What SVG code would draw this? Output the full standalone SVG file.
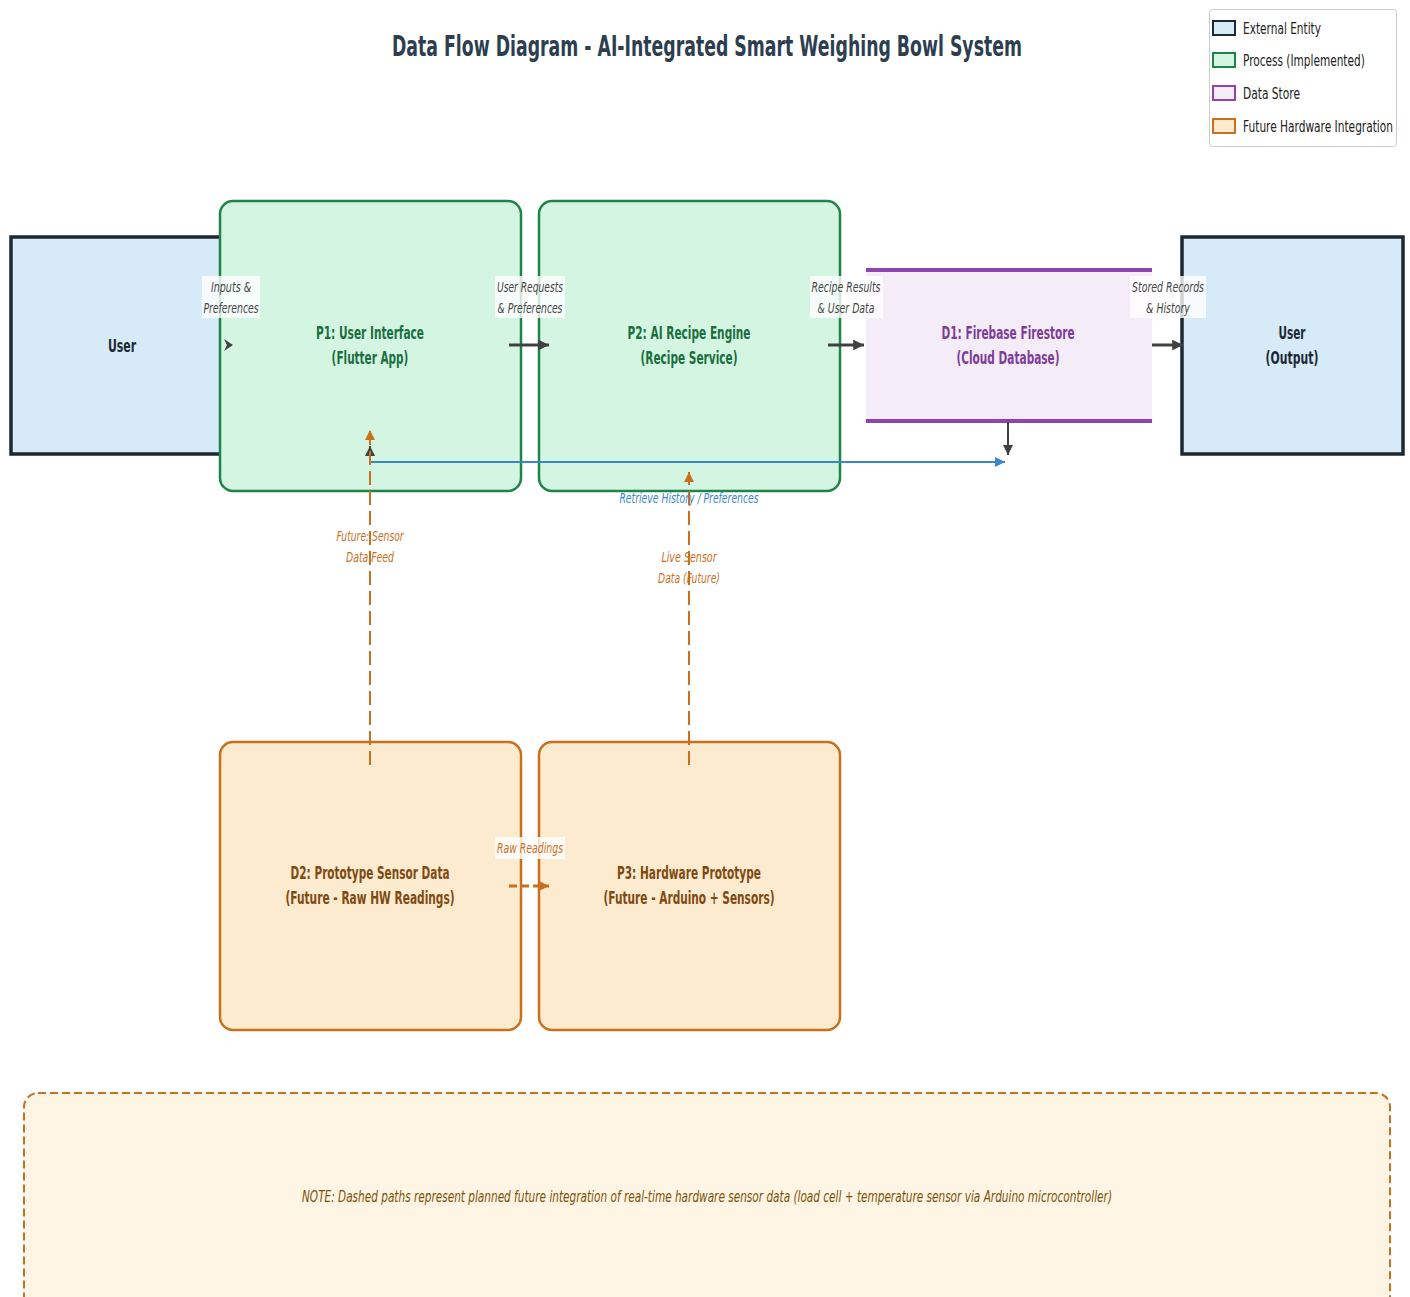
<svg xmlns="http://www.w3.org/2000/svg" width="1410" height="1297" viewBox="0 0 1410 1297">
  <style>
    text { font-family: "DejaVu Sans", "Liberation Sans", sans-serif; }
    .title { font-size: 29px; font-weight: bold; fill: #2c3e50; }
    .node { font-size: 18px; font-weight: bold; text-anchor: middle; }
    .ext { fill: #d6eaf8; stroke: #1c2833; stroke-width: 3.5; }
    .ext-t { fill: #1c2833; }
    .proc { fill: #d5f5e3; stroke: #1e8449; stroke-width: 2.5; }
    .proc-t { fill: #196f3d; }
    .store { fill: #f4ecf7; }
    .store-line { stroke: #8e44ad; stroke-width: 4; }
    .store-t { fill: #7d3c98; }
    .fut { fill: #fdebd0; stroke: #ca6f1e; stroke-width: 2.5; }
    .fut-t { fill: #7e4a12; }
    .lbl, .lbl-blue, .lbl-or { font-size: 14.5px; font-style: italic; text-anchor: middle; }
    .lbl { fill: #444444; }
    .lbl-blue { fill: #3a87c8; }
    .lbl-or { fill: #ca6f1e; }
    .lbl-bg { fill: #ffffff; fill-opacity: 0.8; }
    .flow { stroke: #404040; stroke-width: 3; fill: none; }
    .flow-thin { stroke: #404040; stroke-width: 2; fill: none; }
    .flow-blue { stroke: #3a87c8; stroke-width: 2; fill: none; }
    .flow-or { stroke: #ca6f1e; stroke-width: 2; fill: none; stroke-dasharray: 14 6; }
    .flow-or-h { stroke: #ca6f1e; stroke-width: 3; fill: none; stroke-dasharray: 8 4; }
    .leg { font-size: 15.5px; fill: #222222; }
  </style>
  <defs>
    <marker id="head-dark" viewBox="0 0 10 10" refX="10" refY="5" markerWidth="3.6" markerHeight="3.6" orient="auto" markerUnits="strokeWidth">
      <path d="M0,0 L10,5 L0,10 Z" fill="#404040"/>
    </marker>
    <marker id="head-dark-thin" viewBox="0 0 10 10" refX="10" refY="5" markerWidth="5" markerHeight="5" orient="auto" markerUnits="strokeWidth">
      <path d="M0,0 L10,5 L0,10 Z" fill="#404040"/>
    </marker>
    <marker id="head-blue" viewBox="0 0 10 10" refX="10" refY="5" markerWidth="5" markerHeight="5" orient="auto" markerUnits="strokeWidth">
      <path d="M0,0 L10,5 L0,10 Z" fill="#3a87c8"/>
    </marker>
    <marker id="head-or" viewBox="0 0 10 10" refX="10" refY="5" markerWidth="5" markerHeight="5" orient="auto" markerUnits="strokeWidth">
      <path d="M0,0 L10,5 L0,10 Z" fill="#ca6f1e"/>
    </marker>
    <marker id="head-or-h" viewBox="0 0 10 10" refX="10" refY="5" markerWidth="3.4" markerHeight="3.4" orient="auto" markerUnits="strokeWidth">
      <path d="M0,0 L10,5 L0,10 Z" fill="#ca6f1e"/>
    </marker>
  </defs>

  <rect width="1410" height="1297" fill="#ffffff"/>

  <!-- title (narrow lettering) -->
  <text class="title" transform="translate(707 56) scale(0.6 1)" text-anchor="middle" textLength="1050" lengthAdjust="spacingAndGlyphs">Data Flow Diagram - AI-Integrated Smart Weighing Bowl System</text>

  <!-- legend -->
  <g id="legend">
    <rect x="1209.5" y="9.5" width="187" height="137" rx="3" fill="#ffffff" stroke="#cccccc" stroke-width="1"/>
    <rect x="1213" y="21" width="22" height="14" fill="#d6eaf8" stroke="#1c2833" stroke-width="2"/>
    <text class="leg" transform="translate(1243 34) scale(0.6 1)" textLength="130" lengthAdjust="spacingAndGlyphs">External Entity</text>
    <rect x="1213" y="53" width="22" height="14" fill="#d5f5e3" stroke="#1e8449" stroke-width="2"/>
    <text class="leg" transform="translate(1243 66) scale(0.6 1)" textLength="203" lengthAdjust="spacingAndGlyphs">Process (Implemented)</text>
    <rect x="1213" y="86" width="22" height="14" fill="#f4ecf7" stroke="#8e44ad" stroke-width="2"/>
    <text class="leg" transform="translate(1243 99) scale(0.6 1)" textLength="95" lengthAdjust="spacingAndGlyphs">Data Store</text>
    <rect x="1213" y="119" width="22" height="14" fill="#fdebd0" stroke="#ca6f1e" stroke-width="2"/>
    <text class="leg" transform="translate(1243 132) scale(0.6 1)" textLength="250" lengthAdjust="spacingAndGlyphs">Future Hardware Integration</text>
  </g>

  <!-- external entity: user (input) -->
  <g id="user-in">
    <rect class="ext" x="11" y="237" width="225" height="217"/>
    <text class="node ext-t" transform="translate(122 352) scale(0.6 1)" textLength="47" lengthAdjust="spacingAndGlyphs">User</text>
  </g>

  <!-- P1 -->
  <g id="p1">
    <rect class="proc" x="220" y="201" width="301" height="290" rx="13"/>
    <text class="node proc-t" transform="translate(370 339) scale(0.6 1)" textLength="180" lengthAdjust="spacingAndGlyphs">P1: User Interface</text>
    <text class="node proc-t" transform="translate(370 364) scale(0.6 1)" textLength="128" lengthAdjust="spacingAndGlyphs">(Flutter App)</text>
  </g>

  <!-- P2 -->
  <g id="p2">
    <rect class="proc" x="539" y="201" width="301" height="290" rx="13"/>
    <text class="node proc-t" transform="translate(689 339) scale(0.6 1)" textLength="205" lengthAdjust="spacingAndGlyphs">P2: AI Recipe Engine</text>
    <text class="node proc-t" transform="translate(689 364) scale(0.6 1)" textLength="162" lengthAdjust="spacingAndGlyphs">(Recipe Service)</text>
  </g>

  <!-- D1 data store -->
  <g id="d1">
    <rect class="store" x="866" y="270" width="286" height="151"/>
    <line class="store-line" x1="866" y1="270" x2="1152" y2="270"/>
    <line class="store-line" x1="866" y1="421" x2="1152" y2="421"/>
    <text class="node store-t" transform="translate(1008 339) scale(0.6 1)" textLength="222" lengthAdjust="spacingAndGlyphs">D1: Firebase Firestore</text>
    <text class="node store-t" transform="translate(1008 364) scale(0.6 1)" textLength="172" lengthAdjust="spacingAndGlyphs">(Cloud Database)</text>
  </g>

  <!-- external entity: user (output) -->
  <g id="user-out">
    <rect class="ext" x="1182" y="237" width="221" height="217"/>
    <text class="node ext-t" transform="translate(1292 339) scale(0.6 1)" textLength="45" lengthAdjust="spacingAndGlyphs">User</text>
    <text class="node ext-t" transform="translate(1292 364) scale(0.6 1)" textLength="88" lengthAdjust="spacingAndGlyphs">(Output)</text>
  </g>

  <!-- D2 prototype sensor data -->
  <g id="d2">
    <rect class="fut" x="220" y="742" width="301" height="288" rx="13"/>
    <text class="node fut-t" transform="translate(370 879) scale(0.6 1)" textLength="265" lengthAdjust="spacingAndGlyphs">D2: Prototype Sensor Data</text>
    <text class="node fut-t" transform="translate(370 904) scale(0.6 1)" textLength="282" lengthAdjust="spacingAndGlyphs">(Future - Raw HW Readings)</text>
  </g>

  <!-- P3 hardware prototype -->
  <g id="p3">
    <rect class="fut" x="539" y="742" width="301" height="288" rx="13"/>
    <text class="node fut-t" transform="translate(689 879) scale(0.6 1)" textLength="240" lengthAdjust="spacingAndGlyphs">P3: Hardware Prototype</text>
    <text class="node fut-t" transform="translate(689 904) scale(0.6 1)" textLength="285" lengthAdjust="spacingAndGlyphs">(Future - Arduino + Sensors)</text>
  </g>

  <!-- note -->
  <g id="note">
    <rect x="24" y="1093" width="1366" height="230" rx="14" fill="#fef5e4" stroke="#ca6f1e" stroke-width="2" stroke-dasharray="8 4"/>
    <text transform="translate(707 1202) scale(0.6 1)" text-anchor="middle" font-size="15.5" font-style="italic" fill="#7e5109" textLength="1350" lengthAdjust="spacingAndGlyphs">NOTE: Dashed paths represent planned future integration of real-time hardware sensor data (load cell + temperature sensor via Arduino microcontroller)</text>
  </g>

  <!-- connectors -->
  <g id="connectors">
    <!-- user -> P1 -->
    <path d="M224,339 L233,345 L224,351 L227,345 Z" fill="#404040"/>
    <!-- P1 -> P2 -->
    <line class="flow" x1="509" y1="345" x2="549" y2="345" marker-end="url(#head-dark)"/>
    <!-- P2 -> D1 -->
    <line class="flow" x1="828" y1="345" x2="864" y2="345" marker-end="url(#head-dark)"/>
    <!-- D1 -> user output -->
    <line class="flow" x1="1152" y1="345" x2="1183" y2="345" marker-end="url(#head-dark)"/>
    <!-- D1 retrieve path -->
    <line class="flow-thin" x1="1008" y1="422" x2="1008" y2="455" marker-end="url(#head-dark-thin)"/>
    <line class="flow-blue" x1="370" y1="462" x2="1005" y2="462" marker-end="url(#head-blue)"/>
    <line class="flow-thin" x1="370" y1="462" x2="370" y2="446" marker-end="url(#head-dark-thin)"/>
    <!-- future sensor feeds -->
    <line class="flow-or" x1="370" y1="765" x2="370" y2="430" marker-end="url(#head-or)"/>
    <line class="flow-or" x1="689" y1="765" x2="689" y2="472" marker-end="url(#head-or)"/>
    <!-- D2 -> P3 -->
    <line class="flow-or-h" x1="509" y1="886" x2="549" y2="886" marker-end="url(#head-or-h)"/>

    <!-- flow labels -->
    <rect class="lbl-bg" x="202" y="276" width="58" height="42"/>
    <text class="lbl" transform="translate(231 292) scale(0.6 1)" textLength="67" lengthAdjust="spacingAndGlyphs">Inputs &amp;</text>
    <text class="lbl" transform="translate(231 313) scale(0.6 1)" textLength="92" lengthAdjust="spacingAndGlyphs">Preferences</text>

    <rect class="lbl-bg" x="495" y="276" width="70" height="42"/>
    <text class="lbl" transform="translate(530 292) scale(0.6 1)" textLength="110" lengthAdjust="spacingAndGlyphs">User Requests</text>
    <text class="lbl" transform="translate(530 313) scale(0.6 1)" textLength="108" lengthAdjust="spacingAndGlyphs">&amp; Preferences</text>

    <rect class="lbl-bg" x="810" y="276" width="73" height="42"/>
    <text class="lbl" transform="translate(846 292) scale(0.6 1)" textLength="115" lengthAdjust="spacingAndGlyphs">Recipe Results</text>
    <text class="lbl" transform="translate(846 313) scale(0.6 1)" textLength="95" lengthAdjust="spacingAndGlyphs">&amp; User Data</text>

    <rect class="lbl-bg" x="1130" y="276" width="76" height="42"/>
    <text class="lbl" transform="translate(1168 292) scale(0.6 1)" textLength="120" lengthAdjust="spacingAndGlyphs">Stored Records</text>
    <text class="lbl" transform="translate(1168 313) scale(0.6 1)" textLength="73" lengthAdjust="spacingAndGlyphs">&amp; History</text>

    <text class="lbl-blue" transform="translate(689 503) scale(0.6 1)" textLength="232" lengthAdjust="spacingAndGlyphs">Retrieve History / Preferences</text>

    <text class="lbl-or" transform="translate(370 541) scale(0.6 1)" textLength="112" lengthAdjust="spacingAndGlyphs">Future: Sensor</text>
    <text class="lbl-or" transform="translate(370 562) scale(0.6 1)" textLength="80" lengthAdjust="spacingAndGlyphs">Data Feed</text>

    <text class="lbl-or" transform="translate(689 562) scale(0.6 1)" textLength="92" lengthAdjust="spacingAndGlyphs">Live Sensor</text>
    <text class="lbl-or" transform="translate(689 583) scale(0.6 1)" textLength="103" lengthAdjust="spacingAndGlyphs">Data (Future)</text>

    <rect class="lbl-bg" x="495" y="837" width="70" height="22"/>
    <text class="lbl-or" transform="translate(530 853) scale(0.6 1)" textLength="110" lengthAdjust="spacingAndGlyphs">Raw Readings</text>
  </g>
</svg>
